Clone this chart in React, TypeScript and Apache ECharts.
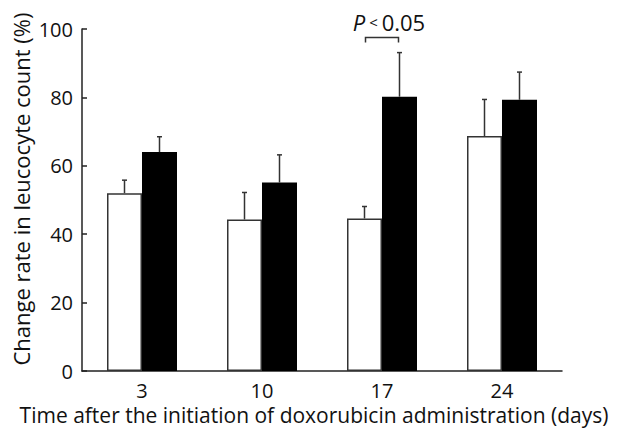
import React, { useEffect, useRef } from "react";
import * as echarts from "echarts";

const categories = ["3", "10", "17", "24"];
const openValues = [52, 44.3, 44.6, 68.7];
const openErrors = [3.8, 7.9, 3.5, 10.7];
const filledValues = [64, 55.1, 80.2, 79.3];
const filledErrors = [4.5, 8.1, 12.9, 8.1];
const yTicks = [0, 20, 40, 60, 80, 100];
const sigCategory = 2;
const sigLevel = 97.5;
const sigLabel = "P < 0.05";

const FONT = "'Open Sans'";
const GAP_RATIO = 50 / 120;

function errorRender(side: number) {
  return (params: any, api: any) => {
    const idx = api.value(0);
    const v = api.value(1);
    const e = api.value(2);
    const band = api.size([1, 0])[0];
    const barW = (band * (1 - GAP_RATIO)) / 2;
    const base = api.coord([idx, v]);
    const top = api.coord([idx, v + e]);
    const x = base[0] + side * barW / 2;
    const style = { stroke: "#333", lineWidth: 1.5 };
    return {
      type: "group",
      children: [
        { type: "line", shape: { x1: x, y1: base[1], x2: x, y2: top[1] }, style },
        { type: "line", shape: { x1: x - 2.5, y1: top[1], x2: x + 2.5, y2: top[1] }, style },
      ],
    };
  };
}

export default function App() {
  const ref = useRef<HTMLDivElement>(null);
  useEffect(() => {
    if (!ref.current) return;
    const chart = echarts.init(ref.current, undefined, { renderer: "svg" });
    chart.setOption({
      animation: false,
      backgroundColor: "#fff",
      grid: { left: 82, right: 59, top: 29, bottom: 57, outerBoundsMode: "none", containLabel: false },
      xAxis: {
        type: "category",
        data: categories,
        name: "Time after the initiation of doxorubicin administration (days)",
        nameLocation: "middle",
        nameGap: 29,
        nameTextStyle: { fontFamily: FONT, fontSize: 21, color: "#111", padding: [0, 16, 0, 0] },
        axisLine: { lineStyle: { color: "#222", width: 1.5 } },
        axisTick: { show: false },
        axisLabel: { fontFamily: FONT, fontSize: 20, color: "#111", margin: 9 },
        splitLine: { show: false },
      },
      yAxis: {
        type: "value",
        min: yTicks[0],
        max: yTicks[yTicks.length - 1],
        interval: 20,
        name: "Change rate in leucocyte count (%)",
        nameLocation: "middle",
        nameGap: 50,
        nameMoveOverlap: false,
        nameRotate: 90,
        nameTextStyle: { fontFamily: FONT, fontSize: 22, color: "#111", padding: [0, 0, 0, 22] },
        axisLine: { show: true, lineStyle: { color: "#222", width: 1.5 } },
        axisTick: { show: true, inside: true, length: 5, lineStyle: { color: "#222", width: 1.5 } },
        axisLabel: { fontFamily: FONT, fontSize: 20, color: "#111", margin: 9 },
        splitLine: { show: false },
      },
      series: [
        {
          type: "bar",
          data: openValues,
          barGap: "0%",
          barCategoryGap: `${GAP_RATIO * 100}%`,
          itemStyle: { color: "#fff", borderColor: "#333", borderWidth: 1.5 },
          z: 2,
        },
        {
          type: "bar",
          data: filledValues,
          barGap: "0%",
          barCategoryGap: `${GAP_RATIO * 100}%`,
          itemStyle: { color: "#000" },
          z: 2,
        },
        {
          type: "custom",
          renderItem: errorRender(-1),
          data: openValues.map((v, i) => [i, v, openErrors[i]]),
          z: 3,
        },
        {
          type: "custom",
          renderItem: errorRender(1),
          data: filledValues.map((v, i) => [i, v, filledErrors[i]]),
          z: 3,
        },
        {
          type: "custom",
          renderItem: (params: any, api: any) => {
            const idx = api.value(0);
            const lvl = api.value(1);
            const band = api.size([1, 0])[0];
            const barW = (band * (1 - GAP_RATIO)) / 2;
            const c = api.coord([idx, lvl]);
            const x1 = c[0] - barW / 2 + 1;
            const x2 = c[0] + barW / 2 - 1;
            const style = { stroke: "#333", lineWidth: 1.5, fill: "none" };
            return {
              type: "group",
              children: [
                {
                  type: "polyline",
                  shape: { points: [[x1, c[1] + 5], [x1, c[1]], [x2, c[1]], [x2, c[1] + 5]] },
                  style,
                },
                {
                  type: "text",
                  x: c[0] + 7,
                  y: c[1] - 16,
                  style: {
                    text: "{i|P}{s| < }{n|0.05}",
                    align: "center",
                    verticalAlign: "middle",
                    rich: {
                      i: { fontFamily: FONT, fontSize: 22, fontStyle: "italic", fill: "#111" },
                      s: { fontFamily: FONT, fontSize: 15, fill: "#111" },
                      n: { fontFamily: FONT, fontSize: 22, fill: "#111" },
                    },
                  },
                },
              ],
            };
          },
          data: [[sigCategory, sigLevel, sigLabel]],
          z: 4,
        },
      ],
    });
    return () => chart.dispose();
  }, []);
  return <div ref={ref} style={{ width: 621, height: 428, position: "absolute", left: 0, top: 0 }} />;
}
